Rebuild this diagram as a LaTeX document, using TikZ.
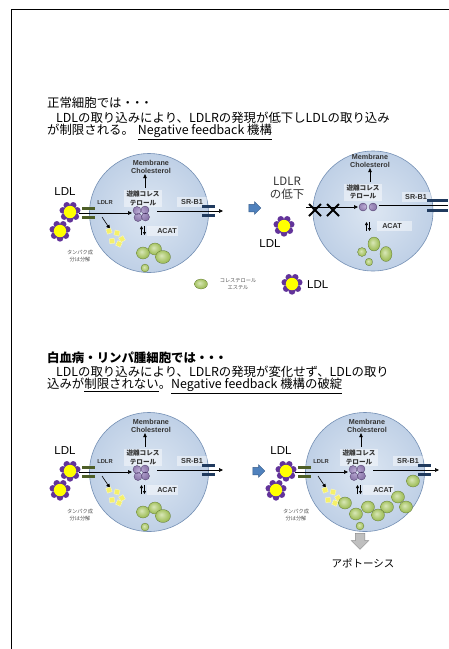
\documentclass[tikz,border=0pt]{standalone}
\usepackage{fontspec}
\setmainfont{Liberation Sans}
\newfontfamily\jp{Noto Sans CJK JP}
\usetikzlibrary{arrows.meta,shapes.arrows}

\definecolor{cellin}{HTML}{DCE6F2}
\definecolor{cellmid}{HTML}{BFD0E6}
\definecolor{cellout}{HTML}{94AED0}
\definecolor{cellrim}{HTML}{7590B5}
\definecolor{estin}{HTML}{D9E7B8}
\definecolor{estmid}{HTML}{A5C262}
\definecolor{estout}{HTML}{6E8F30}
\definecolor{balin}{HTML}{C2B3DB}
\definecolor{balout}{HTML}{5B4380}
\definecolor{ldlrcol}{HTML}{4E5F27}
\definecolor{srbcol}{HTML}{203A5E}
\definecolor{petal}{HTML}{62339A}
\definecolor{corecol}{HTML}{FFFF00}
\definecolor{fragcol}{HTML}{F5F06A}
\definecolor{ink}{HTML}{333333}
\definecolor{pushblue}{HTML}{4F81BD}
\definecolor{pushedge}{HTML}{385D8A}
\definecolor{downgray}{HTML}{BFBFBF}
\definecolor{downedge}{HTML}{8C8C8C}

\pgfdeclareradialshading{cellshade}{\pgfpoint{0bp}{0bp}}{color(0bp)=(cellin); color(25bp)=(cellmid); color(49bp)=(cellout); color(50bp)=(cellout)}
\pgfdeclareradialshading{estershade}{\pgfpoint{-6bp}{6bp}}{color(0bp)=(estin); color(22bp)=(estmid); color(50bp)=(estout)}
\pgfdeclareradialshading{ballshade}{\pgfpoint{-6bp}{6bp}}{color(0bp)=(balin); color(50bp)=(balout)}

% three tight middle dots after a heading
\newcommand\tightdots{・\kern-3pt・\kern-3pt・}

\tikzset{
  cellbody/.style={shading=cellshade, draw=cellrim, line width=0.6pt},
  ester/.style={shading=estershade, draw=estout!70!black, line width=0.2pt},
  ball/.style={shading=ballshade, draw=balout!80!black, line width=0.3pt},
  ldlrbar/.style={draw=ldlrcol, line width=2.6pt},
  srbbar/.style={draw=srbcol, line width=2.6pt},
  flow/.style={draw=black, line width=0.6pt, -{Triangle[length=4pt,width=3.6pt]}},
  flowsmall/.style={draw=black, line width=0.6pt, -{Triangle[length=3pt,width=3pt]}},
  flowplain/.style={draw=black, line width=0.6pt},
  pale/.style={fill=white, fill opacity=0.45, draw=none},
  tag/.style={font=\fontsize{7.2}{8.6}\selectfont\bfseries, text=ink, inner sep=0pt, align=center},
  tagjp/.style={font=\jp\bfseries\fontsize{6.6}{8.6}\selectfont, text=ink, inner sep=0pt, align=center},
  tiny/.style={font=\jp\fontsize{5.2}{6.6}\selectfont, text=ink!85, inner sep=0pt, align=center},
  big/.style={font=\fontsize{11.5}{13}\selectfont, text=black, inner sep=0pt, align=center},
  bigjp/.style={font=\jp\fontsize{11.5}{13}\selectfont, text=ink, inner sep=0pt, align=center},
  head/.style={font=\jp\fontsize{12.4}{14}\selectfont, inner sep=0pt, anchor=west},
  frag/.style={fill=fragcol, draw=white!70!fragcol, line width=0.3pt},
  xcross/.style={draw=black, line width=1.9pt},
  push/.style={single arrow, fill=pushblue, draw=pushedge, line width=0.5pt,
    inner sep=3.5pt, single arrow head extend=2.5pt, minimum height=12pt},
  ldlparticle/.pic={
    \foreach \k in {0,...,6}{\fill[petal] ({90+51.43*\k}:7.4) circle (3.3);}
    \fill[corecol] (0,0) circle (6.2);
  }
}

% a cell taking up LDL through LDLR; #1 is the name suffix
\newcommand\uptakecell[1]{%
  \path[cellbody] (0,0) circle (59.5);
  \path[pale] (-25,-23) rectangle (13,-6);
  \path[pale] (28,-16) rectangle (58,-6);
  \path[pale] (-2,13) rectangle (29,23);
  \node[tag] (mem#1) at (2,-46) {Membrane\\Cholesterol};
  \node[tagjp] (free#1) at (-6,-14.5) {遊離コレス\\テロール};
  \node[tag, font=\fontsize{5.8}{7}\selectfont\bfseries] (ldlrlab#1) at (-44,-11) {LDLR};
  \node[tag] (srb#1) at (43,-11) {SR-B1};
  \node[tag] (acat#1) at (18,18) {ACAT};
  \draw[ldlrbar] (-67,-4.5) -- (-54,-4.5) (-67,4.5) -- (-54,4.5);
  \draw[srbbar] (53,-6.5) -- (66,-6.5) (53,2.5) -- (66,2.5);
  \path[ball] (-12,-2.5) circle (4) (-4,-3) circle (4) (-11,4.5) circle (4) (-3.5,4) circle (4);
  \coordinate (in#1) at (-70,0);
  \coordinate (pool#1) at (-17,0);
  \coordinate (poolout#1) at (8,-2);
  \coordinate (out#1) at (74,-2);
  \coordinate (up#1) at (-4,-25);
  \coordinate (split#1) at (-47,4);
  \coordinate (frags#1) at (-39,16);
  \draw[flow] (in#1) -- (pool#1);
  \draw[flow] (poolout#1) -- (out#1);
  \draw[flow] (up#1) -- (up#1 |- mem#1.south);
  \draw[flow] (split#1) -- (frags#1);
  \draw[flowsmall] (-7.5,22) -- (-7.5,13);
  \draw[flowsmall] (-4.5,13) -- (-4.5,22);
  \draw[frag, rotate around={20:(-40,18)}] (-42.5,15.5) rectangle ++(5,5);
  \draw[frag, rotate around={-15:(-32,20)}] (-34.5,17.5) rectangle ++(5,5);
  \draw[frag, rotate around={30:(-27,26)}] (-29.5,23.5) rectangle ++(5,5);
  \draw[frag, rotate around={10:(-37,28)}] (-39.5,25.5) rectangle ++(5,5);
  \draw[frag, rotate around={-25:(-30,31)}] (-32.5,28.5) rectangle ++(5,5);
  \pic (pa#1) at (-79,-1) {ldlparticle};
  \pic (pb#1) at (-89,18) {ldlparticle};
  \node[big] (ldl#1) at (-84,-21) {LDL};
  \node[tiny] (deg#1) at (-69,43) {タンパク成\\分は分解};
}

\begin{document}
\begin{tikzpicture}[x=1pt,y=-1pt]
\path[fill=white, use as bounding box] (0,0) rectangle (448,649);

% frame
\draw[line width=1.8pt] (11.5,655) -- (11.5,9.5) -- (455,9.5);

% ---------- normal cells ----------
\node[head] (h1) at (47,103) {正常細胞では\tightdots};
\node[head] (h1b) at (56,118) {LDLの取り込みにより、LDLRの発現が低下しLDLの取り込み};
\node[head] (h1c) at (47,132) {が制限される。\hspace{4pt}\underline{Negative feedback 機構}};

\begin{scope}[shift={(149,213)}]
  \uptakecell{A}
  \path[ester] (-6,40) ellipse [x radius=6.5, y radius=6];
  \path[ester] (6,36) ellipse [x radius=6.5, y radius=6];
  \path[ester] (14,44) ellipse [x radius=7.5, y radius=6.5];
  \path[ester] (-4,55) circle (4);
\end{scope}

\node[push] (pushA) at (253,208) {};

% cell with lowered LDLR
\path[cellbody] (373,211) circle (60);
\path[pale] (344,184) rectangle (382,201);
\path[pale] (402,192) rectangle (433,202);
\path[pale] (377,221) rectangle (412,231);
\node[tag] (memB) at (370,161) {Membrane\\Cholesterol};
\node[tagjp] (freeB) at (363,192) {遊離コレス\\テロール};
\node[tag] (srbB) at (416,197) {SR-B1};
\node[tag] (acatB) at (392,226) {ACAT};
\path[ball] (363,207) circle (4) (373,207) circle (4);
\coordinate (inB) at (306,207);
\coordinate (poolB) at (358,207);
\coordinate (poolout) at (379,205);
\coordinate (edgeB) at (448,205);
\coordinate (upB) at (370,182);
\draw[flow] (inB) -- (poolB);
\draw[flowplain] (poolout) -- (edgeB);
\draw[flow] (upB) -- (upB |- memB.south);
\draw[srbbar] (427,200.5) -- (448,200.5) (427,210.5) -- (448,210.5);
\draw[flowsmall] (366.5,231) -- (366.5,222);
\draw[flowsmall] (369.5,222) -- (369.5,231);
\draw[xcross] (309,204) -- (321,216) (309,216) -- (321,204);
\draw[xcross] (327,204) -- (339,216) (327,216) -- (339,204);
\path[ester] (374,244) ellipse [x radius=6, y radius=7];
\path[ester] (386,254) ellipse [x radius=6, y radius=7.5];
\path[ester] (362,252) circle (4.5);
\path[ester] (369,262) circle (3.8);
\node[bigjp] (lowB) at (287,188) {LDLR\\の低下};
\pic (pB) at (284,226) {ldlparticle};
\node[big] (ldlB) at (270,244) {LDL};

% legend
\path[ester] (201,284) ellipse [x radius=6.5, y radius=5];
\node[tiny] (legE) at (238,284) {コレステロール\\エステル};
\pic (legL) at (292,284) {ldlparticle};
\node[big, anchor=west] (legLtxt) at (307,285) {LDL};

% ---------- leukemia / lymphoma cells ----------
\node[head, font=\jp\bfseries\fontsize{12.4}{14}\selectfont] (h2) at (47,358) {白血病・リンパ腫細胞では\tightdots};
\node[head] (h2b) at (56,372) {LDLの取り込みにより、LDLRの発現が変化せず、LDLの取り};
\node[head] (h2c) at (47,386) {込みが\underline{制限されない}。\underline{Negative feedback 機構の破綻}};

\begin{scope}[shift={(149,472)}]
  \uptakecell{C}
  \path[ester] (-6,40) ellipse [x radius=6.5, y radius=6];
  \path[ester] (6,36) ellipse [x radius=6.5, y radius=6];
  \path[ester] (14,44) ellipse [x radius=7.5, y radius=6.5];
  \path[ester] (-4,55) circle (4);
\end{scope}

\node[push] (pushC) at (257,471) {};

\begin{scope}[shift={(365,472)}]
  \uptakecell{D}
  \path[ester] (48,9) ellipse [x radius=6.5, y radius=6];
  \path[ester] (-20,31) ellipse [x radius=6.5, y radius=6];
  \path[ester] (-9,42) ellipse [x radius=6.5, y radius=6];
  \path[ester] (3,35) ellipse [x radius=6.5, y radius=6];
  \path[ester] (33,25) ellipse [x radius=6.5, y radius=6];
  \path[ester] (22,35) ellipse [x radius=6.5, y radius=6];
  \path[ester] (41,35) ellipse [x radius=6.5, y radius=6];
  \path[ester] (13,43) ellipse [x radius=6.5, y radius=6];
  \path[ester] (-5,54) circle (4);
\end{scope}

\node[single arrow, shape border rotate=270, fill=downgray, draw=downedge, line width=0.5pt,
  inner sep=4.5pt, single arrow head extend=4pt, minimum height=16pt] (down) at (360,539) {};
\node[font=\jp\fontsize{10.5}{12}\selectfont] (apo) at (363,563) {アポトーシス};
\end{tikzpicture}
\end{document}
